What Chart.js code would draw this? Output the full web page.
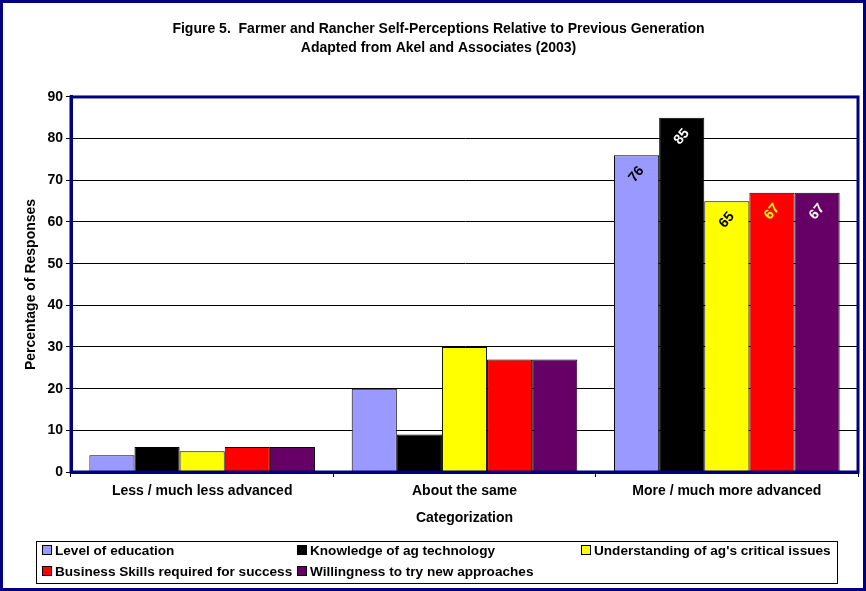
<!DOCTYPE html>
<html>
<head>
<meta charset="utf-8">
<title>Farmer and Rancher Self-Perceptions</title>
<script src="https://cdn.jsdelivr.net/npm/chart.js@4.4.1/dist/chart.umd.min.js"></script>
<style>
    body { margin: 0; background: #fff; }
    .wrap { position: relative; width: 866px; height: 591px; font-family: "Liberation Sans", Arial, sans-serif; }
    .wrap canvas { position: absolute; left: 0; top: 0; }
    .frame { position: absolute; left: 0; top: 0; width: 866px; height: 591px; box-sizing: border-box; border: 3px solid #000080; pointer-events: none; }
    .legend { position: absolute; left: 36px; top: 541px; width: 802px; height: 43px; box-sizing: border-box; border: 1px solid #000; font-weight: bold; font-size: 13.6px; color: #000; }
    .legend-item { position: absolute; white-space: nowrap; line-height: 16px; }
    .legend-item span.box { display: inline-block; width: 8px; height: 8px; border: 1px solid #000; margin-right: 3px; vertical-align: 0px; }
</style>
</head>
<body>
<div class="wrap">
    <canvas id="perceptionChart" width="866" height="591"></canvas>
    <div class="legend" id="legend"></div>
    <div class="frame"></div>
</div>
<script>
const categories = ['Less / much less advanced', 'About the same', 'More / much more advanced'];
const seriesNames = [
    'Level of education',
    'Knowledge of ag technology',
    "Understanding of ag's critical issues",
    'Business Skills required for success',
    'Willingness to try new approaches'
];
const educationValues = [4, 20, 76];
const technologyValues = [6, 9, 85];
const issuesValues = [5, 30, 65];
const businessValues = [6, 27, 67];
const willingnessValues = [6, 27, 67];
const yTicks = [0, 10, 20, 30, 40, 50, 60, 70, 80, 90];

const seriesColors = ['#9999FF', '#000000', '#FFFF00', '#FF0000', '#660066'];
const valueLabelColors = ['#000000', '#FFFFFF', '#000000', '#FFFF00', '#FFFFFF'];
const labelledCategory = 2;

const allValues = [educationValues, technologyValues, issuesValues, businessValues, willingnessValues];
const FONT = '"Liberation Sans", Arial, sans-serif';

// rotated value labels inside the tops of the bars in the last group
const valueLabels = {
    id: 'valueLabels',
    afterDatasetsDraw(chart) {
        const ctx = chart.ctx;
        chart.data.datasets.forEach((ds, i) => {
            const bar = chart.getDatasetMeta(i).data[labelledCategory];
            if (!bar) return;
            ctx.save();
            ctx.translate(bar.x, bar.y + 19);
            ctx.rotate(-Math.PI * 0.28);
            ctx.font = 'bold 14px ' + FONT;
            ctx.fillStyle = valueLabelColors[i];
            ctx.textAlign = 'center';
            ctx.textBaseline = 'middle';
            ctx.fillText(String(ds.data[labelledCategory]), 0, 0);
            ctx.restore();
        });
    }
};

// navy frame around the plot area
const plotFrame = {
    id: 'plotFrame',
    afterDraw(chart) {
        const a = chart.chartArea;
        const ctx = chart.ctx;
        ctx.save();
        ctx.strokeStyle = '#000080';
        ctx.lineWidth = 3;
        ctx.strokeRect(a.left, a.top, a.right - a.left, a.bottom - a.top);
        ctx.restore();
    }
};

const ctx = document.getElementById('perceptionChart');
new Chart(ctx, {
    type: 'bar',
    data: {
        labels: categories,
        datasets: seriesNames.map((name, i) => ({
            label: name,
            data: allValues[i],
            backgroundColor: seriesColors[i],
            borderColor: '#000000',
            borderWidth: 1,
            borderSkipped: 'bottom',
            barPercentage: 1,
            categoryPercentage: 0.86
        }))
    },
    options: {
        responsive: false,
        animation: false,
        layout: {
            padding: { left: 19, right: 8, top: 0, bottom: 64 }
        },
        scales: {
            x: {
                afterFit(scale) { scale.height = 55; },
                grid: {
                    drawOnChartArea: false,
                    color: '#000000',
                    tickLength: 5
                },
                border: { color: '#000080', width: 3 },
                ticks: {
                    color: '#000000',
                    padding: 6,
                    maxRotation: 0,
                    font: { family: FONT, size: 14, weight: 'bold' }
                },
                title: {
                    display: true,
                    text: 'Categorization',
                    color: '#000000',
                    padding: { top: 4, bottom: 0 },
                    font: { family: FONT, size: 14, weight: 'bold' }
                }
            },
            y: {
                min: 0,
                max: 90,
                afterFit(scale) { scale.width = 52; },
                afterBuildTicks(scale) { scale.ticks = yTicks.map(v => ({ value: v })); },
                grid: {
                    color: '#000000',
                    tickLength: 5
                },
                border: { color: '#000080', width: 3 },
                ticks: {
                    color: '#000000',
                    padding: 3,
                    font: { family: FONT, size: 14, weight: 'bold' }
                },
                title: {
                    display: true,
                    text: 'Percentage of Responses',
                    color: '#000000',
                    padding: { top: 4, bottom: 2 },
                    font: { family: FONT, size: 14, weight: 'bold' }
                }
            }
        },
        plugins: {
            legend: { display: false },
            tooltip: { enabled: false },
            title: {
                display: true,
                text: ['Figure 5.  Farmer and Rancher Self-Perceptions Relative to Previous Generation',
                       'Adapted from Akel and Associates (2003)'],
                color: '#000000',
                padding: { top: 20, bottom: 40 },
                font: { family: FONT, size: 14, weight: 'bold', lineHeight: 1.32 }
            }
        }
    },
    plugins: [valueLabels, plotFrame]
});

// tabular legend below the chart
const legendSpots = [
    [5, 1], [260, 1], [544, 1],
    [5, 22], [260, 22]
];
const legendEl = document.getElementById('legend');
seriesNames.forEach((name, i) => {
    const item = document.createElement('div');
    item.className = 'legend-item';
    item.style.left = legendSpots[i][0] + 'px';
    item.style.top = legendSpots[i][1] + 'px';
    const box = document.createElement('span');
    box.className = 'box';
    box.style.background = seriesColors[i];
    item.appendChild(box);
    item.appendChild(document.createTextNode(name));
    legendEl.appendChild(item);
});
</script>
</body>
</html>
